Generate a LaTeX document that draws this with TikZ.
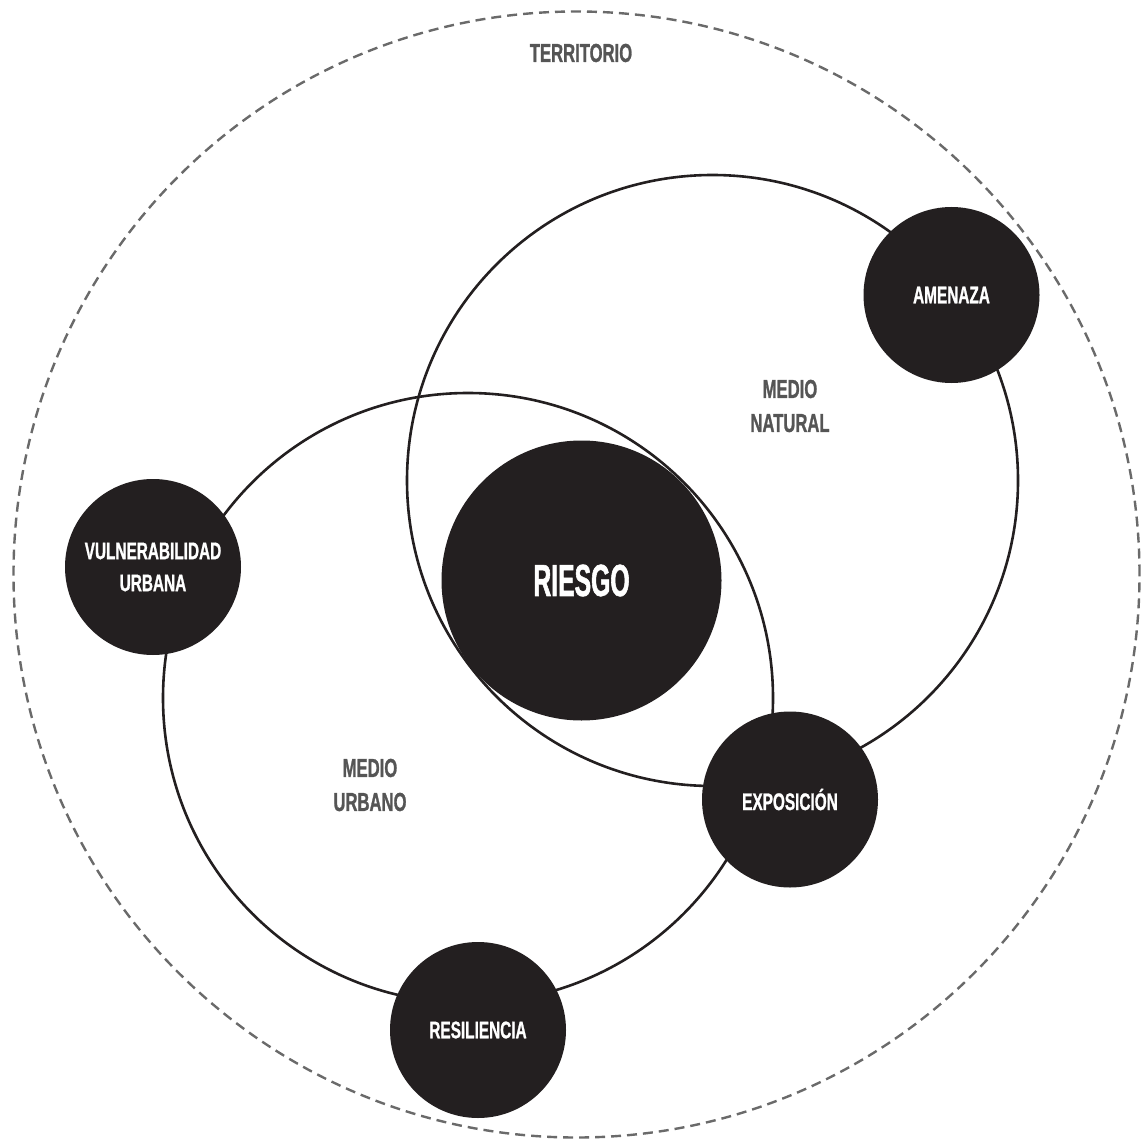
\documentclass[tikz,border=0pt]{standalone}
\usepackage{fontspec}
\setmainfont{Liberation Sans}[FakeStretch=0.64,FakeBold=1]
\newfontfamily\riesgofont{Liberation Sans}[FakeStretch=0.55,FakeBold=1.2]
\definecolor{ink}{HTML}{231F20}
\definecolor{label}{HTML}{555555}
\definecolor{frame}{HTML}{6A6A6A}
\begin{document}
\begin{tikzpicture}[x=1pt,y=-1pt,
  ring/.style={circle,draw=ink,line width=2.6pt,inner sep=0pt},
  hub/.style={circle,fill=ink,inner sep=0pt,minimum size=176pt,text=white,align=center,
    font=\bfseries\fontsize{24}{32}\selectfont},
  zonelabel/.style={text=label,align=center,font=\bfseries\fontsize{26}{34}\selectfont}]
\useasboundingbox (0,0) rectangle (1145,1139);

% territory boundary
\node (territorio) [circle,draw=frame,line width=2.4pt,dash pattern=on 10pt off 6pt,
  minimum size=1126pt,inner sep=0pt] at (576.5,574.5) {};
\node (territoriolabel) [zonelabel] at (581,53) {TERRITORIO};

% natural and urban environments
\node (natural) [ring,minimum size=611pt] at (712.5,480.5) {};
\node (urbano) [ring,minimum size=610pt] at (468,698) {};
\node (naturallabel) [zonelabel] at (790,406) {MEDIO\\NATURAL};
\node (urbanolabel) [zonelabel] at (370,785) {MEDIO\\URBANO};

% risk at the core
\node (riesgo) [hub,minimum size=280pt,font=\riesgofont\bfseries\fontsize{45}{50}\selectfont] at (581.5,580.5) {RIESGO};

% factors
\node (amenaza) [hub] at (951.5,295) {AMENAZA};
\node (vulnerabilidad) [hub] at (153,567) {VULNERABILIDAD\\URBANA};
\node (exposicion) [hub] at (790,799.5) {EXPOSICIÓN};
\node (resiliencia) [hub] at (478,1030) {RESILIENCIA};
\end{tikzpicture}
\end{document}
